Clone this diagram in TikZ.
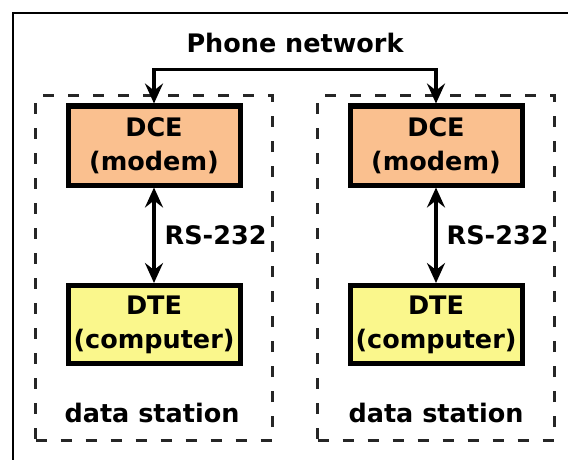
\documentclass[tikz,border=0pt]{standalone}
\usepackage{fontspec}
\setmainfont{DejaVu Sans}
\usetikzlibrary{arrows.meta}
\definecolor{dcefill}{RGB}{250,192,143}
\definecolor{dtefill}{RGB}{250,247,140}
\tikzset{
  lbl/.style={font=\fontsize{25.5}{34}\selectfont\bfseries, inner sep=0pt},
  dcebox/.style={lbl, draw=black, line width=5pt, fill=dcefill, minimum width=172pt, minimum height=79pt, align=center},
  dtebox/.style={lbl, draw=black, line width=5pt, fill=dtefill, minimum width=172pt, minimum height=78pt, align=center},
  stationbox/.style={draw=black!85, line width=3pt, dash pattern=on 11pt off 14pt, minimum width=237pt, minimum height=344pt, inner sep=0pt},
  link/.style={line width=3.4pt, >={Stealth[length=20pt,width=18pt,inset=7pt]}, <->}
}
\begin{document}
\begin{tikzpicture}[x=1pt,y=-1pt]
\useasboundingbox (0,0) rectangle (568,460);
\clip (0,0) rectangle (568,460);
\fill[white] (0,0) rectangle (568,460);
\draw[line width=2pt] (12.5,13.5) rectangle (590,480);
% stations
\node[stationbox] (stL) at (154,268) {};
\node[stationbox] (stR) at (436,268) {};
% title
\node[lbl] (title) at (295,43) {Phone network};
% left station
\node[dcebox] (dceL) at (154,145.5) {DCE\\(modem)};
\node[dtebox] (dteL) at (154,324.5) {DTE\\(computer)};
\node[lbl] (dsL) at (152,413) {data station};
\draw[link] (dceL.south) -- (dteL.north) node[lbl, midway, right=9pt] (rsL) {RS-232};
% right station
\node[dcebox] (dceR) at (436,145.5) {DCE\\(modem)};
\node[dtebox] (dteR) at (436,324.5) {DTE\\(computer)};
\node[lbl] (dsR) at (436,413) {data station};
\draw[link] (dceR.south) -- (dteR.north) node[lbl, midway, right=9pt] (rsR) {RS-232};
% phone network connector
\draw[link] (dceL.north) -- ++(0,-34) -| (dceR.north);
\end{tikzpicture}
\end{document}
